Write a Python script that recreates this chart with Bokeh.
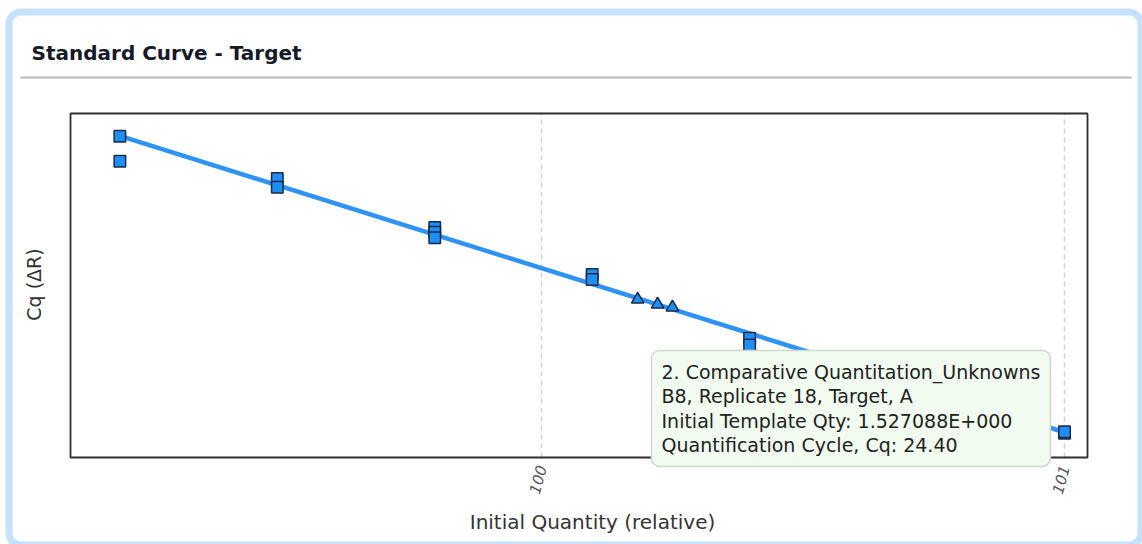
import math
from bokeh.plotting import figure
from bokeh.models import Range1d, Label, BoxAnnotation, ColumnDataSource
from bokeh.embed import file_html
from bokeh.resources import INLINE

# ---------------- data ----------------
std_qty = [0.15625, 0.15625, 0.3125, 0.3125, 0.625, 0.625, 0.625,
           1.25, 1.25, 2.5, 2.5, 5.0, 5.0, 10.0, 10.0]
std_cq = [27.73, 27.22, 26.87, 26.69, 25.87, 25.77, 25.66,
          24.91, 24.81, 23.61, 23.47, 22.52, 22.44, 21.67, 21.70]
unk_qty = [1.527088, 1.667, 1.78]
unk_cq = [24.40, 24.30, 24.24]
fit_slope = -3.349
fit_intercept = 25.04
fit_qty = [0.15625, 10.0]
x_ticks = [1, 10]
x_tick_labels = ["100", "101"]

title_text = "Standard Curve - Target"
x_label = "Initial Quantity (relative)"
y_label = "Cq (ΔR)"
tip_text = ("2. Comparative Quantitation_Unknowns\n"
            "B8, Replicate 18, Target, A\n"
            "Initial Template Qty: 1.527088E+000\n"
            "Quantification Cycle, Cq: 24.40")

FONT = "DejaVu Sans"

# ---------------- layout (pixels) ----------------
W, H = 1142, 544
FL, FT, FR, FB = 70, 113, 1087, 457      # plot area box
X0_PX, DEC_PX = 541, 523                 # pixel of 10^0, pixels per decade
CQ_REF, CQ_REF_PX, CQ_PX = 24.40, 299, 49  # y calibration


def lx(px):  # pixel -> log10 quantity
    return (px - X0_PX) / DEC_PX


def cy(py):  # pixel -> Cq
    return CQ_REF + (CQ_REF_PX - py) / CQ_PX


# frame covers the whole canvas; the plot box is drawn inside it
p = figure(width=W, height=H, output_backend="svg", toolbar_location=None,
           x_axis_type="log",
           x_range=Range1d(10 ** lx(0), 10 ** lx(W)),
           y_range=Range1d(cy(H), cy(0)),
           min_border=0)
p.axis.visible = False
p.grid.visible = False
p.outline_line_color = None
p.background_fill_color = "white"
p.border_fill_color = "white"


def sx(X):
    return X


def sy(Y):
    return H - Y


def sbox(l, t, r, b, **kw):
    return BoxAnnotation(left=sx(l), right=sx(r), top=sy(t), bottom=sy(b),
                         left_units="screen", right_units="screen",
                         top_units="screen", bottom_units="screen", **kw)


# panel decorations
p.add_layout(sbox(8.5, 11.5, 1140.5, 544.5, fill_color=None,
                  line_color="#c6e1fb", line_alpha=1.0, line_width=7,
                  border_radius=12))
p.add_layout(sbox(20, 76, 1131, 78, fill_color="#b9b9b9", fill_alpha=1.0,
                  line_color=None))
p.add_layout(Label(x=sx(31), y=sy(52), x_units="screen", y_units="screen",
                   text=title_text, text_font=FONT, text_font_size="20px",
                   text_font_style="bold", text_color="#151a28",
                   text_baseline="middle", text_align="left"))

# plot box
p.add_layout(sbox(FL, FT, FR, FB, fill_color=None, line_color="#2e2e2e",
                  line_alpha=1.0, line_width=1.8))

# dashed grid at ticks
cq_top, cq_bot = cy(FT), cy(FB)
p.segment(x0=x_ticks, x1=x_ticks, y0=[cq_bot] * len(x_ticks), y1=[cq_top] * len(x_ticks),
          line_color="#d2d2d2", line_width=1.5, line_dash="5 4")

# tick labels
for t, s in zip(x_ticks, x_tick_labels):
    p.add_layout(Label(x=t, y=sy(479), x_units="data", y_units="screen",
                       text=s, angle=1.3, text_font=FONT, text_font_size="15px",
                       text_font_style="italic", text_color="#555555",
                       text_align="center", text_baseline="middle", x_offset=-4))

# axis titles
p.add_layout(Label(x=sx(592), y=sy(521), x_units="screen", y_units="screen",
                   text=x_label, text_font=FONT, text_font_size="20px",
                   text_color="#333333", text_baseline="middle", text_align="center"))
p.add_layout(Label(x=sx(33), y=sy(284), x_units="screen", y_units="screen",
                   text=y_label, text_font=FONT, text_font_size="19px",
                   text_color="#333333", text_baseline="middle", text_align="center",
                   angle=math.pi / 2))

# fit line
fit_cq = [fit_intercept + fit_slope * math.log10(q) for q in fit_qty]
p.line(fit_qty, fit_cq, line_color="#2f93f5", line_width=4.5)

# standards
p.scatter(x="q", y="c", source=ColumnDataSource(dict(q=std_qty, c=std_cq)),
          marker="square", size=11.5, fill_color="#1e8ff5",
          line_color="#1b2a48", line_width=1.5)
# unknowns
p.scatter(x="q", y="c", source=ColumnDataSource(dict(q=unk_qty, c=unk_cq)),
          marker="triangle", size=12.5, fill_color="#1e8ff5",
          line_color="#1b2a48", line_width=1.5)

# tooltip
p.add_layout(Label(x=sx(651), y=sy(350), x_units="screen", y_units="screen",
                   text=tip_text, text_font=FONT, text_font_size="19px",
                   text_color="#222222", text_baseline="top", text_align="left",
                   text_line_height=1.12,
                   background_fill_color="#f1fbef", background_fill_alpha=1.0,
                   border_line_color="#cfd8cc", border_line_width=1.5,
                   padding=10, border_radius=8))

open("out.html", "w").write(file_html(p, INLINE))
